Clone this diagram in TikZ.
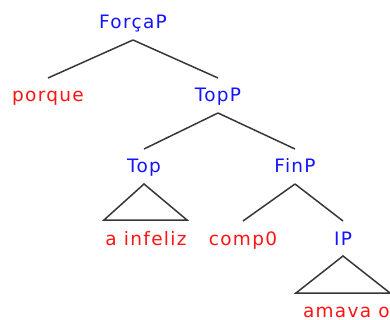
\documentclass[tikz,border=0pt]{standalone}
\usepackage{fontspec}
\setmainfont[LetterSpace=7]{DejaVu Sans}
\definecolor{catblue}{RGB}{20,20,255}
\definecolor{wordred}{RGB}{255,20,20}
\definecolor{edgegray}{RGB}{55,55,55}
\begin{document}
\begin{tikzpicture}[x=1pt,y=-1pt,
  lbl/.style={anchor=base,inner xsep=0pt,inner ysep=7pt,outer sep=0pt,text height=17pt,text depth=4pt,font=\fontsize{18.5}{20}\selectfont},
  cat/.style={lbl,text=catblue},
  word/.style={lbl,text=wordred},
  edge/.style={draw=edgegray,line width=1.5pt}]
\useasboundingbox (0,0) rectangle (390,320);
\node[cat] (forca) at (133,29) {ForçaP};
\node[word] (porque) at (48,102) {porque};
\node[cat] (topp) at (218,102) {TopP};
\node[cat] (top) at (144,173) {Top};
\node[cat] (finp) at (295,173) {FinP};
\node[word] (ainf) at (146,245) {a infeliz};
\node[word] (comp) at (243,245) {comp0};
\node[cat] (ip) at (343,245) {IP};
\node[word,anchor=base west] (amava) at (303,317) {amava o};
\coordinate (t1l) at (104,220);
\coordinate (t1r) at (187,220);
\coordinate (t2l) at (296,293);
\coordinate (t2r) at (390,293);
\draw[edge] (forca.south) -- (porque.north);
\draw[edge] (forca.south) -- (topp.north);
\draw[edge] (topp.south) -- (top.north);
\draw[edge] (topp.south) -- (finp.north);
\draw[edge] (finp.south) -- (comp.north);
\draw[edge] (finp.south) -- (ip.north);
\draw[edge,line join=miter] (top.south) -- (t1l) -- (t1r) -- cycle;
\draw[edge,line join=miter] (ip.south) -- (t2l) -- (t2r) -- cycle;
\end{tikzpicture}
\end{document}
